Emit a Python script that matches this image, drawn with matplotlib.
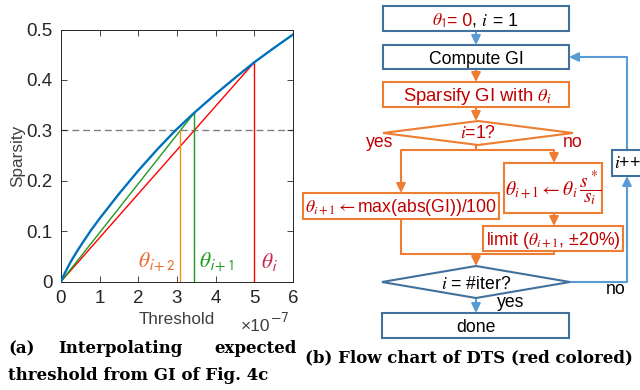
import numpy as np
import matplotlib
matplotlib.use('Agg')
import matplotlib.pyplot as plt
from matplotlib.patches import Rectangle, Polygon

plt.rcParams['font.family'] = ['Liberation Sans', 'DejaVu Sans']
plt.rcParams['mathtext.fontset'] = 'stix'

# ---------------- data (left chart) ----------------
threshold = [0, 0.1, 0.25, 0.4, 0.55, 0.77, 1.0, 1.5, 2.0, 2.5, 2.95, 3.45, 4.0, 4.5, 5.0, 5.5, 6.0]
sparsity = [0, 0.017, 0.039, 0.058, 0.076, 0.101, 0.125, 0.174, 0.220, 0.263, 0.299, 0.335, 0.372, 0.404, 0.435, 0.463, 0.490]
target_sparsity = 0.3
theta_vals = [5.0, 3.45, 3.09]          # theta_i, theta_i+1, theta_i+2
theta_spars = [0.435, 0.335, 0.30]      # sparsity reached at each theta
theta_names = [r'$\theta_{\mathsf{i}}$', r'$\theta_{\mathsf{i+1}}$', r'$\theta_{\mathsf{i+2}}$']
x_ticks = [0, 1, 2, 3, 4, 5, 6]
y_ticks = [0, 0.1, 0.2, 0.3, 0.4, 0.5]

RED = '#FF0000'
GREEN = '#1E9A1E'
ORANGE = '#F0901E'
BLUE = '#0072BD'

W, H = 640, 390
fig = plt.figure(figsize=(W / 100, H / 100), dpi=100)

# ---------------- left chart ----------------
ax = fig.add_axes([61 / W, (H - 281.5) / H, 232 / W, 252 / H])
ax.axhline(target_sparsity, color='#808080', lw=1.0, ls=(0, (5, 2.8)), zorder=1)
ax.plot([0, theta_vals[0]], [0, theta_spars[0]], color=RED, lw=1.0, zorder=2)
ax.plot([theta_vals[0], theta_vals[0]], [0, theta_spars[0]], color=RED, lw=1.0, zorder=2)
ax.plot([0, theta_vals[1]], [0, theta_spars[1]], color=GREEN, lw=1.0, zorder=2)
ax.plot([theta_vals[1], theta_vals[1]], [0, theta_spars[1]], color=GREEN, lw=1.0, zorder=2)
ax.plot([theta_vals[2], theta_vals[2]], [0, theta_spars[2]], color=ORANGE, lw=1.0, zorder=2)
ax.plot(threshold, sparsity, color=BLUE, lw=1.7, zorder=3, solid_joinstyle='round')

ax.set_xlim(0, 6)
ax.set_ylim(0, 0.5)
ax.set_xticks(x_ticks)
ax.set_xticklabels([str(t) for t in x_ticks])
ax.set_yticks(y_ticks)
ax.set_yticklabels(['0', '0.1', '0.2', '0.3', '0.4', '0.5'])
ax.tick_params(direction='in', top=True, right=True, length=4, width=0.6,
               labelsize=13.5, colors='#262626')
ax.tick_params(axis='x', pad=6)
ax.tick_params(axis='y', pad=6)
for s in ax.spines.values():
    s.set_color('#262626')
    s.set_linewidth(0.7)
ax.set_xlabel('Threshold', fontsize=12.3, color='#404040', labelpad=4)
ax.set_ylabel('Sparsity', fontsize=12.3, color='#404040', labelpad=1)

ax.text(2.95, 0.027, theta_names[2], color='#E86A30', fontsize=15.5, ha='right', va='baseline')
ax.text(3.57, 0.027, theta_names[1], color=GREEN, fontsize=15.5, ha='left', va='baseline')
ax.text(5.17, 0.027, theta_names[0], color='#C8284A', fontsize=15.5, ha='left', va='baseline')

# ---------------- overlay (pixel coordinates) ----------------
ov = fig.add_axes([0, 0, 1, 1])
ov.set_xlim(0, W)
ov.set_ylim(H, 0)
ov.axis('off')

ov.text(241, 331, '×10', fontsize=12.5, color='#404040', va='baseline')
ov.text(270, 322, r'$\mathsf{-7}$', fontsize=11, color='#404040', va='baseline')

DB = '#41719C'   # dark blue border
LB = '#5B9BD5'   # light blue arrows
OR = '#ED7D31'   # orange
TR = '#C00000'   # red text
LW = 1.5
FS = 12.7

def box(x0, y0, x1, y1, ec):
    ov.add_patch(Rectangle((x0, y0), x1 - x0, y1 - y0, facecolor='white', edgecolor=ec, lw=LW, zorder=3))

def diamond(x0, y0, x1, y1, ec):
    cx, cy = (x0 + x1) / 2, (y0 + y1) / 2
    ov.add_patch(Polygon([(x0, cy), (cx, y0), (x1, cy), (cx, y1)], closed=True,
                         facecolor='white', edgecolor=ec, lw=LW, zorder=3))

def line(xs, ys, c):
    ov.plot(xs, ys, color=c, lw=LW, solid_capstyle='butt', solid_joinstyle='miter', zorder=2)

def arrow(x0, y0, x1, y1, c):
    ov.annotate('', xy=(x1, y1), xytext=(x0, y0),
                arrowprops=dict(arrowstyle='-|>,head_length=0.55,head_width=0.27', color=c,
                                lw=LW, shrinkA=0, shrinkB=0), zorder=2)

renderer = fig.canvas.get_renderer()

def ctext(x, y, pieces, fs=FS, ha='center'):
    ts = []
    for s, c in pieces:
        ts.append(ov.text(0, y, s, color=c, fontsize=fs, ha='left', va='baseline', zorder=5))
    ws = [t.get_window_extent(renderer).width for t in ts]
    tot = sum(ws)
    x0 = x - tot / 2 if ha == 'center' else x
    for t, w in zip(ts, ws):
        t.set_x(x0)
        x0 += w

# boxes
box(383, 6, 569, 31, DB)
box(383, 45, 569, 69, DB)
box(383, 82, 569, 107, OR)
diamond(383, 121, 573, 145, OR)
box(303, 193, 499, 219, OR)
box(504, 163, 602, 213, OR)
box(483, 226, 623, 251, OR)
diamond(382, 266, 570, 298, DB)
box(382, 313, 569, 338, DB)
box(612, 150, 660, 176, DB)

# connectors
arrow(476, 31, 476, 45, LB)
arrow(476, 69, 476, 82, OR)
arrow(476, 107, 476, 121, OR)
line([476, 476], [145, 150], OR)
line([401, 554], [150, 150], OR)
arrow(401, 150, 401, 193, OR)
arrow(554, 150, 554, 163, OR)
arrow(554, 213, 554, 226, OR)
line([401, 401, 554, 554], [219, 254, 254, 251], OR)
arrow(476, 254, 476, 266, OR)
arrow(476, 298, 476, 313, LB)
line([570, 627], [282, 282], LB)
arrow(627, 282, 627, 176, LB)
line([627, 627], [150, 57], LB)
arrow(627, 57, 569, 57, LB)

# texts
ctext(475, 25.5, [(r'$\theta_{\mathsf{1}}$', TR), ('= 0', TR), (',', 'black'), (r'$\ i$', 'black'), (' = 1', 'black')])
ov.text(476, 63.5, 'Compute GI', fontsize=FS, ha='center', va='baseline', zorder=5)
ov.text(477, 101, r'Sparsify GI with $\theta_i$', color=TR, fontsize=FS + 0.6, ha='center', va='baseline', zorder=5)
ov.text(478, 137.5, r'$i$=1?', color=TR, fontsize=FS, ha='center', va='baseline', zorder=5)
ov.text(380, 147, 'yes', color=TR, fontsize=FS, ha='center', va='baseline', zorder=5)
ov.text(573, 147, 'no', color=TR, fontsize=FS, ha='center', va='baseline', zorder=5)
ov.text(401, 212.5, r'$\theta_{i+1}\leftarrow$max(abs(GI))/100', color=TR, fontsize=FS, ha='center', va='baseline', zorder=5)
ov.text(553, 188.5, r'$\theta_{i+1}\leftarrow\theta_i\,\dfrac{s^*}{s_i}$', color=TR, fontsize=14, ha='center', va='center', zorder=5)
ov.text(553, 245, r'limit ($\theta_{i+1}$, ±20%)', color=TR, fontsize=FS, ha='center', va='baseline', zorder=5)
ov.text(476, 289.3, r'$i$ = #iter?', color='black', fontsize=FS, ha='center', va='baseline', zorder=5)
ov.text(511, 307, 'yes', color='black', fontsize=FS, ha='center', va='baseline', zorder=5)
ov.text(616, 294, 'no', color='black', fontsize=FS, ha='center', va='baseline', zorder=5)
ov.text(476, 331.7, 'done', color='black', fontsize=FS, ha='center', va='baseline', zorder=5)
ov.text(614, 168, r'$i$++', color='black', fontsize=FS, ha='left', va='baseline', zorder=5)

# captions
cap = dict(family='DejaVu Serif', weight='bold', fontsize=12, va='baseline', color='black')
ov.text(8, 353, '(a)', ha='left', **cap)
ov.text(58, 353, 'Interpolating', ha='left', **cap)
ov.text(297, 353, 'expected', ha='right', **cap)
ov.text(8, 380, 'threshold from GI of Fig. 4c', ha='left', **cap)
ov.text(305, 362, '(b) Flow chart of DTS (red colored)', ha='left', **cap)

fig.savefig('out.png', dpi=100)
